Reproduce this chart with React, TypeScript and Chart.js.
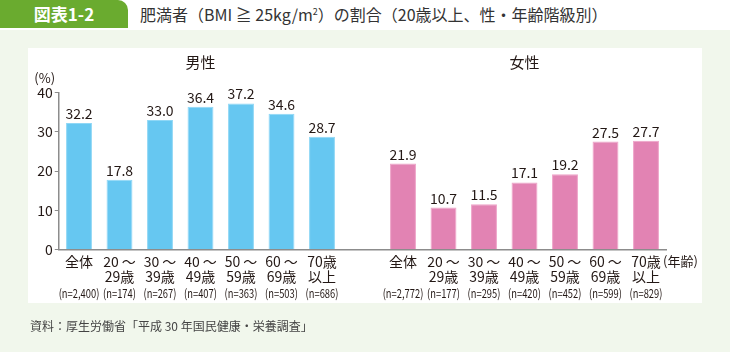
import React, { useEffect, useRef } from 'react';
import { Chart, registerables } from 'chart.js';

Chart.register(...registerables);

const FONT = "'Noto Sans CJK JP', 'Noto Sans', sans-serif";

const ageLine1 = ['全体', '20 ～', '30 ～', '40 ～', '50 ～', '60 ～', '70歳'];
const ageLine2 = ['', '29歳', '39歳', '49歳', '59歳', '69歳', '以上'];
const maleValues = [32.2, 17.8, 33.0, 36.4, 37.2, 34.6, 28.7];
const femaleValues = [21.9, 10.7, 11.5, 17.1, 19.2, 27.5, 27.7];
const maleN = ['2,400', '174', '267', '407', '363', '503', '686'];
const femaleN = ['2,772', '177', '295', '420', '452', '599', '829'];
const yMin = 0;
const yMax = 40;
const yStep = 10;

const BLUE = '#66c7f1';
const BLUE_EDGE = '#8fd7f6';
const PINK = '#e283b3';
const PINK_EDGE = '#eea3c8';
const TEXT = '#231815';

export default function App() {
  const ref = useRef<HTMLCanvasElement | null>(null);

  useEffect(() => {
    if (!ref.current) return;
    const labels = [
      ...ageLine1.map((_, i) => 'm' + i),
      'gap',
      ...ageLine1.map((_, i) => 'f' + i),
    ];
    const data = [...maleValues, null, ...femaleValues];
    const colors = [...maleValues.map(() => BLUE), 'rgba(0,0,0,0)', ...femaleValues.map(() => PINK)];
    const edges = [...maleValues.map(() => BLUE_EDGE), 'rgba(0,0,0,0)', ...femaleValues.map(() => PINK_EDGE)];

    const annot = {
      id: 'annot',
      afterDraw(chart: any) {
        const ctx = chart.ctx as CanvasRenderingContext2D;
        const xs = chart.scales.x;
        const ys = chart.scales.y;
        const area = chart.chartArea;
        ctx.save();
        ctx.fillStyle = TEXT;
        ctx.textAlign = 'center';

        // section titles
        ctx.font = `15px ${FONT}`;
        ctx.textBaseline = 'middle';
        const mid = (a: number, b: number) => (xs.getPixelForValue(a) + xs.getPixelForValue(b)) / 2;
        ctx.fillText('男性', mid(0, 6), area.top - 30);
        ctx.fillText('女性', mid(8, 14), area.top - 30);

        // (%) label
        ctx.font = `13px ${FONT}`;
        ctx.fillText('(%)', area.left - 14, area.top - 14);

        // value labels
        ctx.font = `14px ${FONT}`;
        ctx.textBaseline = 'alphabetic';
        const groups = [
          { vals: maleValues, off: 0, n: maleN },
          { vals: femaleValues, off: 8, n: femaleN },
        ];
        groups.forEach((g) => {
          g.vals.forEach((v, i) => {
            const x = xs.getPixelForValue(g.off + i);
            const y = ys.getPixelForValue(v);
            ctx.fillText(v.toFixed(1), x, y - 4);
          });
        });

        // x category labels
        ctx.textBaseline = 'middle';
        groups.forEach((g) => {
          ageLine1.forEach((t, i) => {
            const x = xs.getPixelForValue(g.off + i);
            ctx.font = `14px ${FONT}`;
            ctx.fillText(t, x, area.bottom + 12);
            if (ageLine2[i]) ctx.fillText(ageLine2[i], x, area.bottom + 27);
            ctx.save();
            ctx.font = `12px ${FONT}`;
            ctx.translate(x, area.bottom + 44);
            ctx.scale(0.78, 1);
            ctx.fillText('(n=' + g.n[i] + ')', 0, 0);
            ctx.restore();
          });
        });
        // (年齢)
        ctx.font = `13px ${FONT}`;
        ctx.textAlign = 'left';
        const lastX = xs.getPixelForValue(14);
        ctx.fillText('(年齢)', lastX + 17, area.bottom + 12);
        ctx.restore();
      },
    };

    const chart = new Chart(ref.current, {
      type: 'bar',
      data: {
        labels,
        datasets: [
          {
            data,
            backgroundColor: colors,
            borderColor: edges,
            borderWidth: 1,
            barPercentage: 0.64,
            categoryPercentage: 1,
          },
        ],
      },
      options: {
        responsive: false,
        animation: false,
        events: [],
        layout: { padding: { left: 28.75, right: 63.75, top: 92.5, bottom: 102.5 } },
        plugins: { legend: { display: false }, tooltip: { enabled: false }, title: { display: false } },
        scales: {
          x: {
            type: 'category',
            ticks: { display: false },
            grid: { display: false, drawTicks: false },
            border: { display: true, color: '#8c8c8c', width: 1.5 },
            afterFit: (s: any) => {
              s.height = 0;
            },
          },
          y: {
            min: yMin,
            max: yMax,
            ticks: {
              stepSize: yStep,
              padding: 2,
              color: TEXT,
              font: { family: FONT, size: 14 },
            },
            grid: { drawOnChartArea: false, drawTicks: true, tickLength: 4, color: '#8c8c8c', lineWidth: 1 },
            border: { display: true, color: '#8c8c8c', width: 1.5 },
            afterFit: (s: any) => {
              s.width = 30;
            },
          },
        },
      },
      plugins: [annot],
    } as any);
    return () => chart.destroy();
  }, []);

  return (
    <div
      style={{
        position: 'fixed',
        left: 0,
        top: 0,
        width: 730,
        height: 352,
        background: '#f1f7ec',
        overflow: 'hidden',
        fontFamily: FONT,
      }}
    >
      <div style={{ position: 'absolute', left: 0, top: 0, width: 730, height: 30, background: '#ffffff' }} />
      <div
        style={{
          position: 'absolute',
          left: 0,
          top: 0,
          width: 128,
          height: 28,
          background: '#6aab2f',
          borderTopRightRadius: 10,
          color: '#ffffff',
          fontWeight: 700,
          fontSize: 17,
          lineHeight: '28px',
          textAlign: 'center',
        }}
      >
        図表1-2
      </div>
      <div
        style={{
          position: 'absolute',
          left: 140,
          top: 0,
          height: 28,
          lineHeight: '28px',
          fontSize: 16,
          color: '#333333',
          whiteSpace: 'nowrap',
        }}
      >
        肥満者（BMI ≧ 25kg/m<sup style={{ fontSize: 9, lineHeight: 0 }}>2</sup>）の割合（20歳以上、性・年齢階級別）
      </div>
      <div style={{ position: 'absolute', left: 28, top: 48, width: 674, height: 255, background: '#ffffff' }} />
      <canvas ref={ref} width={730} height={352} style={{ position: 'absolute', left: 0, top: 0, width: 730, height: 352 }} />
      <div
        style={{
          position: 'absolute',
          left: 30,
          top: 318,
          fontSize: 12,
          lineHeight: '16px',
          color: '#444444',
          whiteSpace: 'nowrap',
        }}
      >
        資料：厚生労働省「平成 30 年国民健康・栄養調査」
      </div>
    </div>
  );
}
